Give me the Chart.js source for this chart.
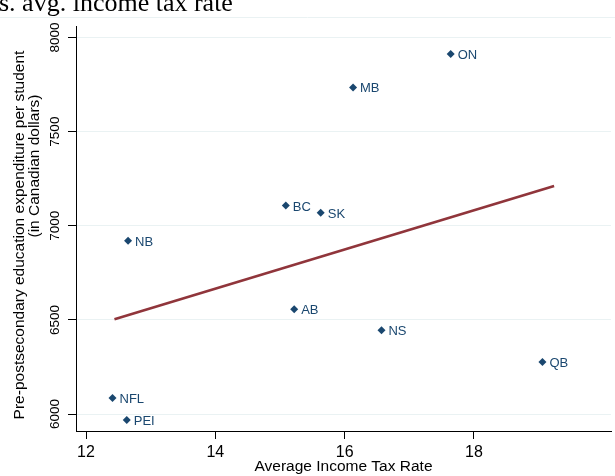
<!DOCTYPE html>
<html>
<head>
<meta charset="utf-8">
<script src="https://cdn.jsdelivr.net/npm/chart.js@4.4.1/dist/chart.umd.min.js"></script>
<style>
  html, body { margin: 0; padding: 0; background: #fff; }
  #wrap { width: 615px; height: 476px; }
</style>
</head>
<body>
<div id="wrap"><canvas id="chart" width="615" height="476"></canvas></div>
<script>
// province, average income tax rate, spending per student
const provinces = ["ON", "MB", "BC", "SK", "NB", "AB", "NS", "QB", "NFL", "PEI"];
const taxRate = [17.64, 16.13, 15.09, 15.63, 12.65, 15.22, 16.57, 19.06, 12.41, 12.63];
const spending = [7912, 7735, 7108, 7069, 6920, 6556, 6445, 6276, 6085, 5968];

// linear fit, two ends
const fitX = [12.44, 19.24];
const fitY = [6503, 7211];

const xTicks = [12, 14, 16, 18];
const yTicks = [6000, 6500, 7000, 7500, 8000];

const NAVY = "#1a476f";
const MAROON = "#90353b";
const GRID = "#eaf2f3";
const SANS = "'Liberation Sans', Arial, sans-serif";

// top title (only its lower part fits on the canvas) + thin rule under it
const headerPlugin = {
  id: "header",
  beforeDraw(chart) {
    const ctx = chart.ctx;
    ctx.save();
    ctx.fillStyle = "#fff";
    ctx.fillRect(0, 0, chart.width, chart.height);
    ctx.strokeStyle = GRID;
    ctx.lineWidth = 1;
    ctx.beginPath();
    ctx.moveTo(0, 17.5);
    ctx.lineTo(chart.width, 17.5);
    ctx.stroke();
    ctx.fillStyle = "#000";
    ctx.font = "26px 'Liberation Serif', 'Times New Roman', serif";
    ctx.textBaseline = "alphabetic";
    ctx.textAlign = "left";
    ctx.fillText("s. avg. income tax rate", -1, 11);
    ctx.restore();
  }
};

// two-line rotated y title
const yTitlePlugin = {
  id: "yTitle",
  afterDraw(chart) {
    const ctx = chart.ctx;
    const lines = [
      ["Pre-postsecondary education expenditure per student", 19.5, 235],
      ["(in Canadian dollars)", 35, 166]
    ];
    lines.forEach(([txt, cx, cy]) => {
      ctx.save();
      ctx.fillStyle = "#000";
      ctx.font = "15.5px " + SANS;
      ctx.textAlign = "center";
      ctx.textBaseline = "middle";
      ctx.translate(cx, cy);
      ctx.rotate(-Math.PI / 2);
      ctx.fillText(txt, 0, 0);
      ctx.restore();
    });
  }
};

// province names beside each marker
const pointLabelPlugin = {
  id: "pointLabels",
  afterDatasetsDraw(chart) {
    const ctx = chart.ctx;
    const xs = chart.scales.x, ys = chart.scales.y;
    ctx.save();
    ctx.fillStyle = NAVY;
    ctx.font = "13px " + SANS;
    ctx.textAlign = "left";
    ctx.textBaseline = "middle";
    provinces.forEach((p, i) => {
      const px = xs.getPixelForValue(taxRate[i]);
      const py = ys.getPixelForValue(spending[i]);
      ctx.fillText(p, px + 7, py + 1.5);
    });
    ctx.restore();
  }
};

new Chart(document.getElementById("chart"), {
  type: "scatter",
  data: {
    datasets: [
      {
        type: "line",
        data: fitX.map((x, i) => ({ x, y: fitY[i] })),
        borderColor: MAROON,
        borderWidth: 2.6,
        pointRadius: 0,
        fill: false,
        tension: 0
      },
      {
        data: taxRate.map((x, i) => ({ x, y: spending[i] })),
        pointStyle: "rectRot",
        pointRadius: 4,
        backgroundColor: NAVY,
        borderColor: NAVY,
        borderWidth: 0
      }
    ]
  },
  options: {
    responsive: false,
    animation: false,
    events: [],
    layout: { padding: { top: 26, right: 0, left: 0, bottom: 0 } },
    plugins: {
      legend: { display: false },
      tooltip: { enabled: false }
    },
    scales: {
      x: {
        type: "linear",
        min: 11.845,
        max: 20.12,
        afterBuildTicks: s => { s.ticks = xTicks.map(v => ({ value: v })); },
        afterFit: s => { s.height = 45; },
        grid: { display: true, drawOnChartArea: false, drawTicks: true, tickLength: 8, tickColor: "#000" },
        border: { color: "#000", width: 1 },
        ticks: { color: "#000", font: { family: SANS, size: 16 }, padding: 4, maxRotation: 0 },
        title: {
          display: true,
          text: "Average Income Tax Rate",
          color: "#000",
          font: { family: SANS, size: 15.5 },
          padding: { top: -6, bottom: 0 }
        }
      },
      y: {
        min: 5910,
        max: 8061,
        afterBuildTicks: s => { s.ticks = yTicks.map(v => ({ value: v })); },
        afterFit: s => { s.width = 76; },
        grid: { color: GRID, lineWidth: 1, tickLength: 8, tickColor: "#000" },
        border: { color: "#000", width: 1 },
        ticks: {
          color: "#000",
          font: { family: SANS, size: 13.5 },
          minRotation: 90,
          maxRotation: 90,
          crossAlign: "center",
          padding: -2,
          callback: v => String(v)
        }
      }
    }
  },
  plugins: [headerPlugin, yTitlePlugin, pointLabelPlugin]
});
</script>
</body>
</html>
